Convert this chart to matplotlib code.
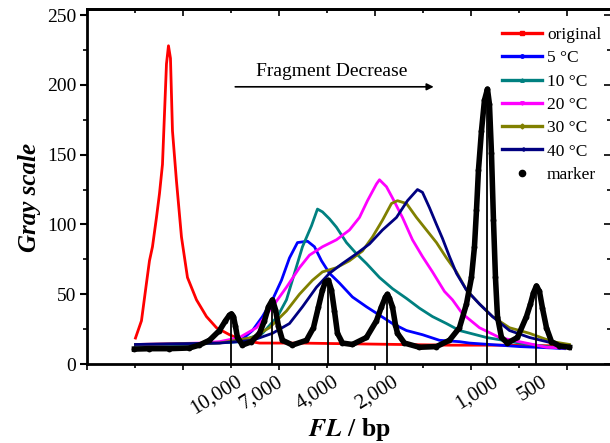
import matplotlib.pyplot as plt
from matplotlib.lines import Line2D
from matplotlib.ticker import MultipleLocator

plt.rcParams['font.family'] = 'Liberation Serif'
plt.rcParams['mathtext.fontset'] = 'stix'

# migration distance along the lane (scan px) and gray value of each trace
orig_x = [48, 54, 59, 62, 65, 69, 72, 75, 77, 79, 81, 83, 85, 89, 94, 100, 109, 119, 129, 142, 155, 172, 212, 262, 312, 362, 412, 472]
orig_y = [18.6, 31, 58, 74, 84, 105, 122, 143, 179, 215, 228, 219, 167, 131, 91, 62, 46, 34, 26, 21, 17, 15, 15, 14.5, 14, 13.5, 13.5, 13]

t5_x = [48, 72, 107, 122, 152, 165, 175, 185, 194, 202, 210, 220, 227, 234, 242, 252, 265, 279, 292, 305, 319, 335, 352, 372, 382, 432, 465, 477]
t5_y = [13.6, 14, 14.5, 15, 16, 24, 34, 46, 60, 76, 87, 88, 84, 74, 65, 58, 48, 41, 35, 29, 24, 21, 17, 16, 15, 12.5, 11.5, 11]

t10_x = [48, 112, 152, 175, 190, 199, 207, 215, 224, 230, 235, 242, 249, 259, 269, 279, 292, 305, 319, 332, 345, 359, 372, 399, 432, 465, 477]
t10_y = [13.5, 14.5, 16, 22, 34, 46, 65, 84, 99, 111, 109, 104, 98, 87, 79, 72, 62, 54, 47, 40, 34, 29, 24, 19, 15, 12, 11.5]

t20_x = [48, 112, 132, 152, 169, 185, 199, 212, 222, 235, 249, 262, 272, 280, 289, 292, 299, 305, 315, 325, 335, 345, 357, 365, 375, 392, 412, 432, 459, 477]
t20_y = [14, 15, 16, 19, 26, 41, 55, 69, 78, 84, 89, 96, 105, 117, 129, 132, 127, 119, 105, 89, 77, 66, 52, 46, 36, 26, 19, 16, 12, 11.5]

t30_x = [48, 132, 165, 182, 199, 212, 225, 235, 249, 262, 275, 285, 295, 304, 310, 319, 329, 339, 349, 359, 369, 379, 392, 405, 422, 442, 465, 482]
t30_y = [14, 15, 19, 26, 38, 50, 60, 66, 69, 74, 81, 91, 103, 115, 117, 115, 105, 96, 87, 76, 66, 53, 43, 34, 26, 22, 16, 14]

t40_x = [48, 132, 165, 185, 202, 215, 229, 242, 255, 269, 282, 295, 309, 320, 330, 335, 342, 349, 355, 362, 369, 379, 392, 405, 422, 442, 465, 479]
t40_y = [14, 15, 17, 22, 29, 41, 55, 65, 72, 79, 86, 96, 105, 117, 125, 123, 112, 100, 90, 77, 65, 53, 43, 34, 24, 19, 15, 12]

marker_x = [47, 62, 82, 102, 112, 122, 132, 138, 142, 144, 146, 148, 150, 155, 164, 172, 177, 181, 185, 188, 191, 195, 205,
            219, 226, 231, 235, 238, 241, 244, 247, 250, 255, 265, 279, 289, 294, 298, 300, 302, 305, 308, 310, 317, 332,
            349, 362, 372, 379, 384, 387, 389, 391, 394, 397, 400, 402, 404, 406, 408, 410, 414, 420, 430, 439, 443, 446,
            449, 452, 455, 459, 464, 472, 482]
marker_y = [10.7, 11, 11, 11.5, 13.6, 17, 24, 31, 35, 36, 34, 27, 19, 13.6, 16, 22, 31, 41, 46, 39, 27, 17, 13.6,
            17, 26, 41, 53, 59, 60, 53, 38, 22, 15, 14, 19, 31, 41, 48, 50, 47, 41, 28, 22, 15, 12,
            12.5, 17, 26, 43, 62, 84, 110, 139, 167, 189, 197, 186, 151, 103, 62, 34, 19, 15, 19, 34, 43, 51,
            56, 52, 40, 26, 16, 13, 12]

# DNA ladder bands
ladder_x = [144, 185, 241, 300, 400, 449]
ladder_top = [36, 46, 60, 50, 197, 56]
ladder_labels = ['10,000', '7,000', '4,000', '2,000', '1,000', '500']

series = [
    (orig_x, orig_y, 'red', 's', 'original'),
    (t5_x, t5_y, 'blue', 'o', '5 °C'),
    (t10_x, t10_y, 'teal', '^', '10 °C'),
    (t20_x, t20_y, 'magenta', 'v', '20 °C'),
    (t30_x, t30_y, 'olive', 'D', '30 °C'),
    (t40_x, t40_y, 'navy', '<', '40 °C'),
]

fig = plt.figure(figsize=(6.1, 4.43), dpi=100)
ax = fig.add_axes([0.1434, 0.1783, 0.859, 0.8003])

handles = []
labels = []
for x, y, c, m, lab in series:
    ax.plot(x, y, color=c, lw=2.0)
    handles.append(Line2D([], [], color=c, lw=2.4, marker=m, ms=2.5))
    labels.append(lab)

ax.plot(marker_x, marker_y, color='k', lw=4.0, marker='o', ms=4.2, mew=0)
handles.append(Line2D([], [], ls='none', color='k', marker='o', ms=4.5))
labels.append('marker')

ax.vlines(ladder_x, 0, ladder_top, color='k', lw=1.3)
for xv, lab in zip(ladder_x, ladder_labels):
    ax.annotate(lab, xy=(xv, 0), xycoords=('data', 'axes fraction'),
                xytext=(3, -6), textcoords='offset points',
                rotation=32, rotation_mode='anchor', ha='right', va='top', fontsize=15)

ax.annotate('', xy=(349, 198.6), xytext=(145, 198.6),
            arrowprops=dict(arrowstyle='-|>', color='k', lw=1.2, mutation_scale=10))
ax.text(244, 206, 'Fragment Decrease', ha='center', va='baseline', fontsize=14)

ax.set_xlim(0, 524)
ax.set_ylim(0, 254)

ax.xaxis.set_major_locator(MultipleLocator(96))
ax.xaxis.set_minor_locator(MultipleLocator(48))
ax.yaxis.set_major_locator(MultipleLocator(50))
ax.yaxis.set_minor_locator(MultipleLocator(25))
ax.tick_params(axis='x', which='both', direction='out', labelbottom=False, width=1.2)
ax.tick_params(axis='x', which='major', length=4)
ax.tick_params(axis='x', which='minor', length=3)
ax.tick_params(axis='y', which='major', direction='out', length=5, width=1.5, labelsize=14, pad=3)
ax.tick_params(axis='y', which='minor', direction='out', length=3, width=1.2)

for s in ax.spines.values():
    s.set_linewidth(2.0)

# mirrored axes on top and right with inward ticks
top = ax.secondary_xaxis('top')
top.xaxis.set_major_locator(MultipleLocator(96))
top.xaxis.set_minor_locator(MultipleLocator(48))
top.tick_params(which='both', direction='in', labeltop=False, width=1.2)
top.tick_params(which='major', length=5)
top.tick_params(which='minor', length=3)
top.spines['top'].set_linewidth(2.0)

right = ax.secondary_yaxis('right')
right.yaxis.set_major_locator(MultipleLocator(50))
right.yaxis.set_minor_locator(MultipleLocator(25))
right.tick_params(which='both', direction='in', labelright=False, width=1.2)
right.tick_params(which='major', length=5)
right.tick_params(which='minor', length=3)

ax.set_ylabel('Gray scale', fontsize=18, fontweight='bold', fontstyle='italic')
ax.yaxis.set_label_coords(-0.088, 0.47)
ax.set_xlabel(r'$\mathbfit{FL}$ / bp', fontsize=18.5, fontweight='bold', va='baseline')
ax.xaxis.set_label_coords(0.5, -0.203)

ax.legend(handles, labels, loc='upper left', bbox_to_anchor=(502 / 610, 1 - 27 / 443),
          bbox_transform=fig.transFigure, frameon=False, fontsize=12.5,
          handlelength=2.3, handletextpad=0.3, labelspacing=0.41, borderpad=0, borderaxespad=0)

fig.savefig('out.png', dpi=100)
